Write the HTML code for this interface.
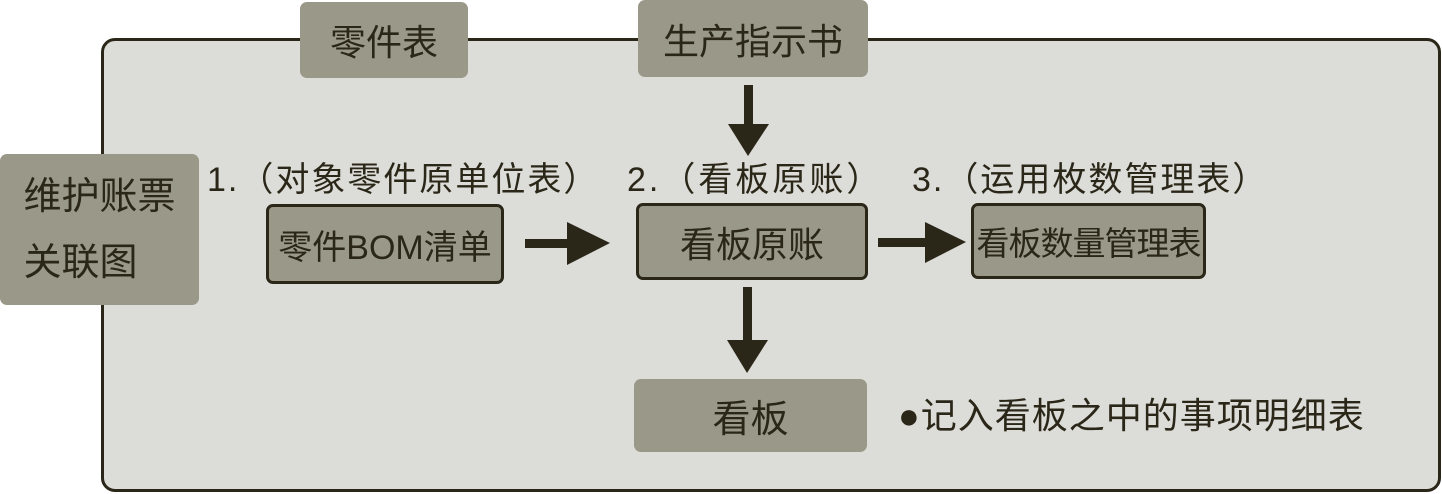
<!DOCTYPE html>
<html><head><meta charset="utf-8"><style>
body{margin:0;width:1442px;height:494px;background:#fff;position:relative;overflow:hidden;font-family:"Liberation Sans","Noto Sans CJK SC",sans-serif;color:#2a2618}
.a{position:absolute;box-sizing:border-box}
.frame{left:101px;top:38px;width:1340px;height:454px;border:3px solid #2a2618;border-radius:14px;background:#dcdcd8}
.g{background:#9a9888;border-radius:7px;display:flex;align-items:center;justify-content:center;font-size:36px;white-space:nowrap}
.b{border:3px solid #2a2618}
.t{font-size:34px;white-space:nowrap;line-height:40px;letter-spacing:1px}
</style></head><body>
<div class="a frame"></div>
<div class="a g" style="left:300px;top:2px;width:168px;height:76px">零件表</div>
<div class="a g" style="left:638px;top:0px;width:230px;height:77px">生产指示书</div>
<div class="a g" style="left:0;top:154px;width:199px;height:151px;flex-direction:column;line-height:66px;font-size:38px">维护账票<br>关联图</div>
<div class="a t" style="left:207px;top:160px;letter-spacing:2px">1.（对象零件原单位表）</div>
<div class="a t" style="left:627px;top:160px;letter-spacing:3px">2.（看板原账）</div>
<div class="a t" style="left:912px;top:160px;letter-spacing:2px">3.（运用枚数管理表）</div>
<div class="a g b" style="left:266px;top:204px;width:238px;height:80px;font-size:34px">零件BOM清单</div>
<div class="a g b" style="left:636px;top:203px;width:232px;height:77px">看板原账</div>
<div class="a g b" style="left:971px;top:203px;width:235px;height:76px;font-size:33px;letter-spacing:-1px">看板数量管理表</div>
<div class="a g" style="left:634px;top:379px;width:233px;height:73px;font-size:38px">看板</div>
<div class="a t" style="left:898px;top:396px;font-size:36px;letter-spacing:1px">●记入看板之中的事项明细表</div>
<svg class="a" style="left:0;top:0" width="1442" height="494">
<g fill="#2a2618">
<rect x="525" y="239" width="45" height="9"/><polygon points="567,222 610,243 567,265"/>
<rect x="878" y="238" width="50" height="9"/><polygon points="925,222 966,242 925,263"/>
<rect x="744" y="85" width="9" height="42"/><polygon points="728,124 769,124 748,156"/>
<rect x="743" y="287" width="9" height="55"/><polygon points="727,340 768,340 747,373"/>
</g></svg>
</body></html>
